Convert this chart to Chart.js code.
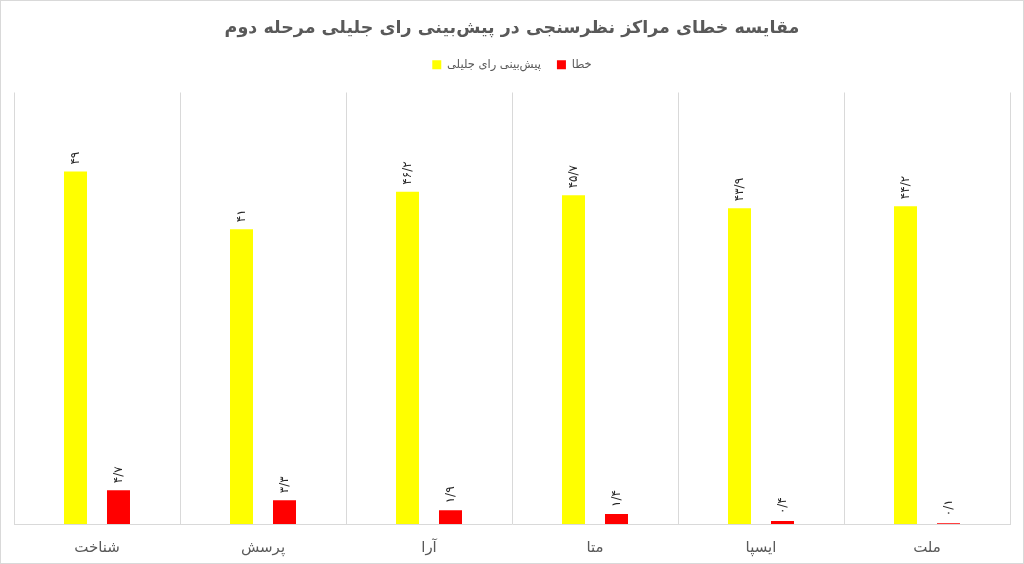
<!DOCTYPE html>
<html lang="fa">
<head>
    <meta charset="UTF-8">
    <title>مقایسه خطای مراکز نظرسنجی</title>
    <script src="https://cdn.jsdelivr.net/npm/chart.js@4.4.1/dist/chart.umd.min.js"></script>
    <style>
        body {
            margin: 0;
            padding: 0;
            background: #fff;
        }
        .frame {
            width: 1024px;
            height: 564px;
            box-sizing: border-box;
            border: 1px solid #d9d9d9;
        }
        canvas {
            display: block;
        }
    </style>
</head>
<body>
    <div class="frame">
        <canvas id="errorChart" width="1022" height="562"></canvas>
    </div>

    <script>
        // centers, left to right as in the picture
        const centers = ['شناخت', 'پرسش', 'آرا', 'متا', 'ایسپا', 'ملت'];
        const predicted = [49, 41, 46.2, 45.7, 43.9, 44.2];
        const errors = [4.7, 3.3, 1.9, 1.4, 0.4, 0.1];
        const predictedLabels = ['۴۹', '۴۱', '۴۶/۲', '۴۵/۷', '۴۳/۹', '۴۴/۲'];
        const errorLabels = ['۴/۷', '۳/۳', '۱/۹', '۱/۴', '۰/۴', '۰/۱'];

        const faFont = "'DejaVu Sans', Tahoma, sans-serif";

        // rotated value labels above each bar
        const barLabels = {
            id: 'barLabels',
            afterDatasetsDraw(chart) {
                const ctx = chart.ctx;
                chart.data.datasets.forEach((ds, i) => {
                    const meta = chart.getDatasetMeta(i);
                    meta.data.forEach((bar, j) => {
                        ctx.save();
                        ctx.translate(bar.x, bar.y - 7);
                        ctx.rotate(-Math.PI / 2);
                        ctx.font = '12px ' + faFont;
                        ctx.fillStyle = '#262626';
                        ctx.textAlign = 'left';
                        ctx.textBaseline = 'middle';
                        ctx.fillText(ds.valueLabels[j], 0, 0);
                        ctx.restore();
                    });
                });
            }
        };

        // a bit more room under the legend
        const legendGap = {
            id: 'legendGap',
            beforeInit(chart) {
                const fit = chart.legend.fit;
                chart.legend.fit = function () {
                    fit.bind(chart.legend)();
                    this.height += 12;
                };
            }
        };

        new Chart(document.getElementById('errorChart'), {
            type: 'bar',
            data: {
                labels: centers,
                datasets: [
                    {
                        label: 'پیش‌بینی رای جلیلی',
                        data: predicted,
                        valueLabels: predictedLabels,
                        backgroundColor: '#ffff00'
                    },
                    {
                        label: 'خطا',
                        data: errors,
                        valueLabels: errorLabels,
                        backgroundColor: '#ff0000'
                    }
                ]
            },
            options: {
                responsive: false,
                animation: false,
                categoryPercentage: 0.518,
                barPercentage: 0.535,
                layout: {
                    padding: { left: 13, right: 13, top: 0, bottom: 0 }
                },
                plugins: {
                    title: {
                        display: true,
                        text: 'مقایسه خطای مراکز نظرسنجی در پیش‌بینی رای جلیلی مرحله دوم',
                        color: '#595959',
                        font: { family: faFont, size: 17.5, weight: 'bold' },
                        padding: { top: 17, bottom: 4 }
                    },
                    legend: {
                        labels: {
                            color: '#595959',
                            font: { family: faFont, size: 11.5 },
                            boxWidth: 9,
                            boxHeight: 9,
                            padding: 16
                        }
                    },
                    tooltip: { enabled: false }
                },
                scales: {
                    x: {
                        grid: {
                            color: '#d9d9d9',
                            drawTicks: false
                        },
                        border: { color: '#d9d9d9' },
                        ticks: {
                            color: '#595959',
                            font: { family: faFont, size: 15 },
                            padding: 15
                        },
                        afterFit(scale) {
                            scale.height = 39;
                        }
                    },
                    y: {
                        display: false,
                        min: 0,
                        max: 60
                    }
                }
            },
            plugins: [barLabels, legendGap]
        });
    </script>
</body>
</html>
